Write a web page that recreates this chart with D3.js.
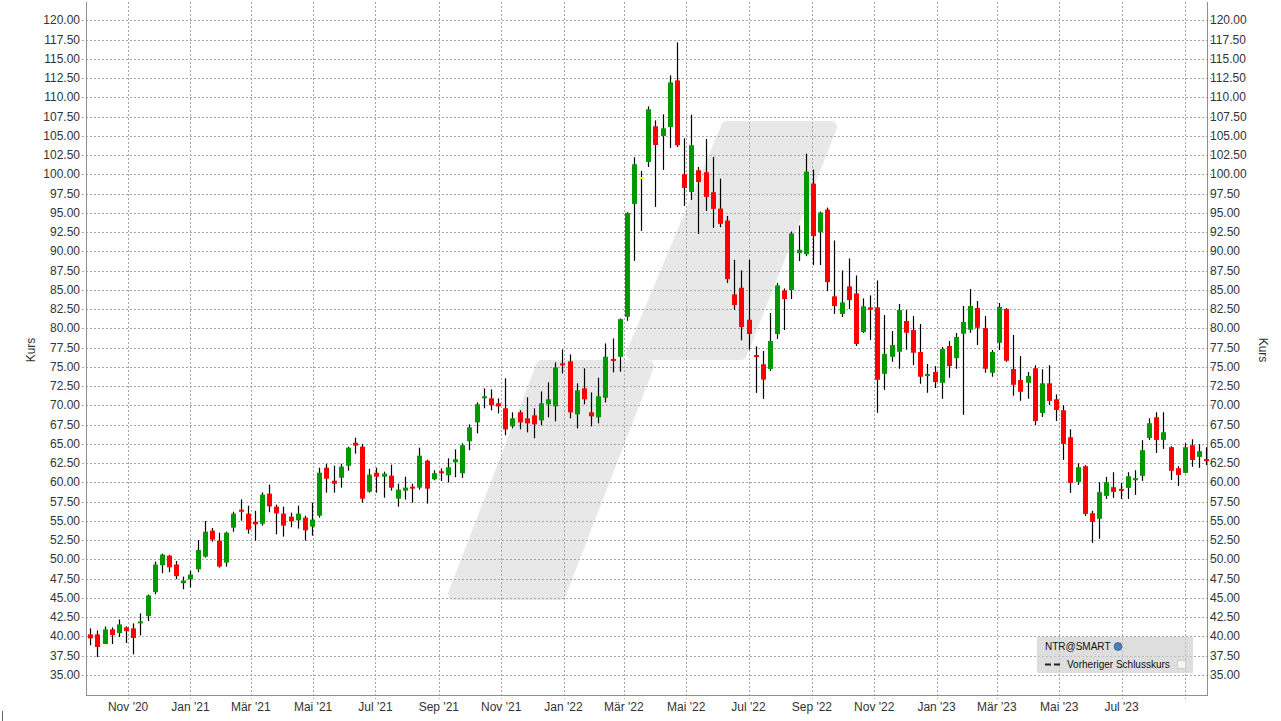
<!DOCTYPE html>
<html><head><meta charset="utf-8">
<script src="https://cdn.jsdelivr.net/npm/d3@7"></script>
<style>
body{margin:0;background:#fff}
svg{display:block}
text{font-family:"Liberation Sans",Arial,sans-serif}
</style>
</head><body>
<svg id="c" width="1281" height="721"></svg>
<script>
// ---- DATA (weekly candles, NTR@SMART) ----
const openV=[40.27,40.27,39.02,40.92,40.44,41.18,41.05,41.70,42.65,45.76,49.25,50.50,49.34,46.92,47.40,48.73,50.38,53.74,52.45,49.60,
54.13,56.46,55.95,54.90,54.65,58.55,56.86,55.95,55.56,55.09,55.43,54.27,55.69,61.92,60.23,60.62,62.18,65.16,64.65,58.81,
61.27,60.75,60.88,57.90,58.94,59.46,59.33,62.83,60.42,61.45,60.94,62.62,61.20,65.35,67.81,70.93,70.93,70.28,69.63,67.29,
69.11,68.33,68.72,68.07,70.15,69.89,75.47,75.73,68.85,72.22,69.11,68.46,71.00,76.02,76.33,81.52,96.18,99.55,101.63,106.26,
105.00,106.17,112.22,100.03,97.73,100.55,100.29,97.69,95.57,94.02,84.43,85.29,81.14,76.52,75.35,74.75,79.28,84.94,84.99,89.78,
89.65,98.81,92.51,95.44,84.17,81.88,85.46,84.55,79.54,82.74,82.74,74.12,76.33,76.98,80.97,79.80,76.94,73.82,74.34,72.95,
77.72,76.16,79.32,79.84,82.66,80.06,74.25,78.15,82.53,74.73,73.30,72.95,74.83,69.03,72.88,70.80,69.38,65.87,60.08,62.11,
56.01,55.28,58.26,59.39,59.17,59.30,60.30,60.86,65.79,68.47,65.53,64.58,61.85,61.25,64.84,63.32,63.02];
const highV=[41.05,40.79,41.31,41.18,42.21,41.31,41.70,42.99,45.45,49.73,50.76,50.60,49.81,47.78,48.56,52.53,55.00,54.09,53.48,53.61,
56.20,57.80,56.98,56.33,58.72,59.72,57.12,56.86,56.08,56.99,55.69,57.38,61.92,62.44,62.18,62.44,64.65,65.81,65.03,61.79,
61.92,61.40,62.31,59.84,60.75,59.84,64.52,62.96,61.58,61.84,63.14,64.31,65.09,67.55,70.41,72.22,72.09,70.93,73.52,69.11,
69.37,71.06,69.63,71.83,73.00,75.60,77.28,76.63,72.87,74.82,71.70,73.60,78.06,78.71,81.30,95.10,102.23,100.46,108.85,107.03,
107.81,112.87,117.15,104.70,107.77,100.98,104.61,102.28,99.46,94.62,88.92,87.54,88.92,77.68,77.08,82.01,85.90,85.20,92.59,93.37,
102.70,100.63,95.19,95.70,91.43,87.54,89.09,86.89,83.91,84.30,86.24,81.75,79.67,83.18,82.40,81.62,80.58,75.38,75.12,77.59,
78.37,79.41,82.92,85.13,83.57,81.62,77.20,83.31,82.66,79.15,76.42,74.34,75.22,74.70,75.22,71.45,70.03,66.91,62.50,62.24,
56.32,60.04,60.73,61.33,59.95,61.33,61.59,65.49,68.34,69.12,69.12,64.71,62.11,65.10,65.61,64.97,64.58];
const lowV=[38.85,37.33,39.00,39.02,39.93,39.15,37.68,40.14,42.00,45.50,48.22,48.35,47.44,46.14,46.36,48.35,50.25,52.32,48.95,49.08,
53.61,55.04,53.35,52.45,54.40,56.13,53.27,52.97,54.18,54.01,52.45,53.10,55.43,58.68,58.68,59.33,61.53,63.74,57.38,58.68,
58.68,58.03,58.94,56.86,57.77,57.38,59.07,57.25,60.29,60.20,60.00,60.68,60.60,64.18,66.38,69.63,69.37,68.98,66.13,67.03,
66.90,66.51,65.74,67.42,68.46,67.94,74.17,68.33,67.03,70.15,67.29,67.68,70.40,74.30,74.38,81.00,88.78,92.67,100.98,95.79,
100.59,103.44,103.57,95.92,96.70,92.29,95.27,93.06,93.15,85.90,82.44,78.46,77.25,71.64,70.86,74.49,78.64,79.80,83.82,88.75,
89.39,88.23,88.23,84.86,81.88,81.49,82.52,77.73,79.41,78.50,69.05,72.04,75.68,74.77,77.24,75.25,72.82,71.65,72.26,70.87,
73.60,74.77,68.79,79.45,77.85,74.25,73.73,77.20,75.68,71.26,70.61,70.87,67.47,68.51,70.07,67.99,62.93,58.65,59.69,55.67,
52.16,52.68,57.87,58.00,57.87,57.87,58.39,60.21,65.53,63.84,64.36,60.34,59.56,61.20,62.03,61.90,62.28];
const closeV=[39.75,38.63,40.92,40.18,41.57,40.70,39.80,41.96,45.32,49.34,50.63,48.99,47.83,47.27,48.04,51.24,53.61,52.58,49.08,53.48,
55.95,56.20,53.87,54.56,58.42,56.90,55.99,54.40,54.96,55.95,53.79,55.17,61.27,60.49,59.84,62.05,64.52,64.78,57.90,61.01,
60.75,61.14,59.33,59.07,59.33,59.20,63.48,59.20,61.20,61.20,61.97,63.01,64.83,67.16,70.15,71.19,70.02,69.89,66.90,68.33,
67.81,67.68,67.55,70.28,70.80,74.95,75.21,69.11,71.96,70.80,68.59,71.19,76.33,75.81,81.21,95.01,101.33,99.55,108.46,103.83,
105.99,111.96,103.79,98.25,103.79,99.03,97.09,95.53,93.59,86.41,83.04,80.19,79.28,76.30,73.36,78.38,85.59,83.82,92.33,90.22,
100.37,91.99,95.06,86.02,82.91,83.39,83.69,77.99,82.87,82.44,73.34,76.68,77.85,82.40,79.45,76.85,73.73,74.08,73.04,77.33,
75.12,78.89,80.84,82.92,80.10,74.77,76.94,82.79,75.81,72.69,71.78,73.82,67.99,72.88,70.59,69.42,65.01,59.95,61.98,55.93,
54.89,58.74,60.04,58.78,58.91,60.81,60.55,64.19,67.69,65.53,66.52,61.51,60.99,64.58,62.93,64.06,62.80];
const firstWeek = new Date(2020, 8, 25);
const yTicks=[35,37.5,40,42.5,45,47.5,50,52.5,55,57.5,60,62.5,65,67.5,70,72.5,75,77.5,80,82.5,85,87.5,90,92.5,95,97.5,100,102.5,105,107.5,110,112.5,115,117.5,120];
const xTickLabels=["Nov '20","Jan '21","Mär '21","Mai '21","Jul '21","Sep '21","Nov '21","Jan '22","Mär '22","Mai '22","Jul '22","Sep '22","Nov '22","Jan '23","Mär '23","Mai '23","Jul '23",""];
const seriesName="NTR@SMART";
const prevCloseName="Vorheriger Schlusskurs";
const axisTitle="Kurs";

// ---- LAYOUT ----
const L=86, R=1208, T=2, B=695;
const svg=d3.select("#c");
const data=openV.map((o,i)=>({date:d3.timeDay.offset(firstWeek,7*i),o,h:highV[i],l:lowV[i],c:closeV[i]}));
const x=d3.scaleTime().domain([new Date(2020,8,20,19),new Date(2023,8,23,14)]).range([L,R]);
const y=d3.scaleLinear().domain([32.4,122.4]).range([B,T]);

svg.append("rect").attr("width",1281).attr("height",721).attr("fill","#fff");

// watermark
const wm=svg.append("g").attr("fill","#e8e8e8").attr("stroke","#e8e8e8").attr("stroke-width",12).attr("stroke-linejoin","round");
wm.append("path").attr("d","M727,127 L831,127 L741,354 L632,354 Z");
wm.append("path").attr("d","M542,366 L648,366 L560,594 L454,594 Z");

// grid
const grid=svg.append("g").attr("stroke","#a6a6a6").attr("stroke-dasharray","2,2").attr("stroke-width",1);
yTicks.forEach(v=>{
  const yy=Math.round(y(v))+0.5;
  grid.append("line").attr("x1",L-4).attr("x2",R+4).attr("y1",yy).attr("y2",yy);
});
const xTicks=d3.timeMonth.every(2).range(new Date(2020,9,1),new Date(2023,8,30));
xTicks.forEach((d,i)=>{
  const xx=Math.round(x(d))+0.5;
  grid.append("line").attr("x1",xx).attr("x2",xx).attr("y1",T).attr("y2",B+4);
});

// frame
const fr=svg.append("g").attr("stroke","#8f8f8f").attr("stroke-width",1).attr("fill","none");
fr.append("line").attr("x1",L+0.5).attr("x2",L+0.5).attr("y1",T).attr("y2",B);
fr.append("line").attr("x1",R-0.5).attr("x2",R-0.5).attr("y1",T).attr("y2",B);
fr.append("line").attr("x1",L).attr("x2",R).attr("y1",B+0.5).attr("y2",B+0.5);

// y labels
const yl=svg.append("g").attr("font-size",12).attr("fill","#333");
yTicks.forEach(v=>{
  yl.append("text").attr("x",80).attr("y",y(v)+4).attr("text-anchor","end").text(v.toFixed(2));
  yl.append("text").attr("x",1210).attr("y",y(v)+4).attr("text-anchor","start").text(v.toFixed(2));
});
// x labels
const xl=svg.append("g").attr("font-size",12).attr("fill","#333").attr("text-anchor","middle");
xTicks.forEach((d,i)=>{
  if(xTickLabels[i]) xl.append("text").attr("x",x(d)).attr("y",711).text(xTickLabels[i]);
});
// axis titles
svg.append("text").attr("transform","translate(35,350) rotate(-90)").attr("text-anchor","middle").attr("font-size",12).attr("fill","#333").text(axisTitle);
svg.append("text").attr("transform","translate(1259,350) rotate(90)").attr("text-anchor","middle").attr("font-size",12).attr("fill","#333").text(axisTitle);

// candles
const cg=svg.append("g");
data.forEach(d=>{
  const cx=Math.round(x(d.date))+0.5;
  cg.append("line").attr("x1",cx).attr("x2",cx).attr("y1",y(d.h)).attr("y2",y(d.l)).attr("stroke","#000").attr("stroke-width",1.2);
  const top=y(Math.max(d.o,d.c)), bot=y(Math.min(d.o,d.c));
  const col=d.c>d.o?"#009900":(d.c<d.o?"#ff0000":"#ffff00");
  const h=Math.max(bot-top,2);
  cg.append("rect").attr("x",cx-2.5).attr("width",5).attr("y",(top+bot)/2-h/2).attr("height",h).attr("fill",col);
});

// legend
const lg=svg.append("g");
lg.append("rect").attr("x",1037).attr("y",637).attr("width",156).attr("height",36).attr("fill","rgba(205,205,205,0.65)");
lg.append("text").attr("x",1045).attr("y",650).attr("font-size",10).attr("fill","#111").text(seriesName);
const gr=lg.append("circle").attr("cx",1118).attr("cy",646.5).attr("r",4).attr("fill","#4a7fb5").attr("stroke","#2a5a90").attr("stroke-width",0.6);
lg.append("line").attr("x1",1045).attr("x2",1062).attr("y1",664.5).attr("y2",664.5).attr("stroke","#222").attr("stroke-width",2).attr("stroke-dasharray","6,3");
lg.append("text").attr("x",1067).attr("y",668).attr("font-size",10).attr("fill","#111").text(prevCloseName);
lg.append("rect").attr("x",1177.5).attr("y",660.5).attr("width",8).attr("height",8).attr("fill","#f6f6f6").attr("stroke","#ccc");

// small mark bottom-left
svg.append("line").attr("x1",2.5).attr("x2",2.5).attr("y1",711).attr("y2",721).attr("stroke","#666");
</script>
</body></html>
